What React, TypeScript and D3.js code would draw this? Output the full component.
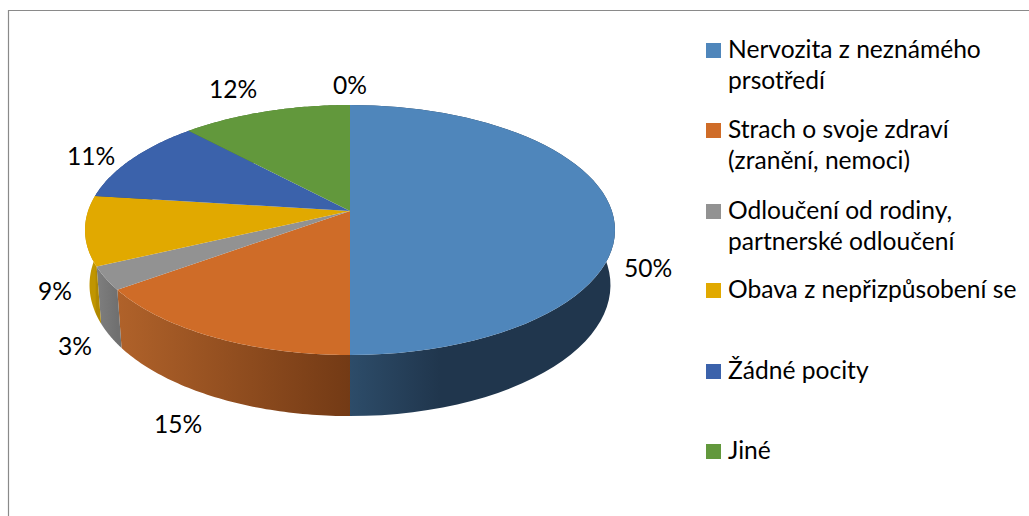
import React from 'react';
import * as d3 from 'd3';

const categories = [
  ['Nervozita z neznámého', 'prsotředí'],
  ['Strach o svoje zdraví', '(zranění, nemoci)'],
  ['Odloučení od rodiny,', 'partnerské odloučení'],
  ['Obava z nepřizpůsobení se'],
  ['Žádné pocity'],
  ['Jiné'],
  [''],
];
const values = [50, 15, 3, 9, 11, 12, 0];
const labels = ['50%', '15%', '3%', '9%', '11%', '12%', '0%'];
const topColors = ['#4f86bb', '#cf6c28', '#929292', '#e1a900', '#3b62ab', '#62983c', '#62983c'];
const wallLight = ['#2d4c69', '#b0622a', '#7f7f7f', '#c09500', '#2c4a82', '#4c742e', '#4c742e'];
const wallDark = ['#20364d', '#733a15', '#707070', '#b08800', '#2c4a82', '#4c742e', '#4c742e'];
const legendSwatch = ['#4f86bb', '#cf6c28', '#929292', '#e1a900', '#3b62ab', '#62983c'];
const labelX = [648, 178, 75, 55, 91, 233, 350];
const labelY = [267, 423, 345, 290, 155, 88, 84];
const legendY = [50, 130, 211, 290, 371, 451];

const cx = 350, apexY = 211, topY = 105, botY = 355;
const c = (2 * apexY - topY - botY) / (botY - topY);
const a = botY * (1 + c) - apexY;
const f = 265 * Math.sqrt(1 - c * c);
const depthY = 58.9, depthG = 0.017;

const project = (ang: number, lower: boolean) => {
  const u = Math.sin(ang), v = -Math.cos(ang);
  const d = 1 + c * v + (lower ? depthG : 0);
  const x = cx + (f * u) / d;
  const y = (a * v + apexY + (lower ? depthY : 0)) / d;
  return [x, y] as [number, number];
};

const pieGen = d3.pie<number>().sort(null).startAngle(0).endAngle(2 * Math.PI);
const arcs = pieGen(values);
const line = d3.line();

const arcPts = (s: number, e: number, lower: boolean) =>
  d3.range(0, 61).map((i) => project(s + ((e - s) * i) / 60, lower));

const wallPath = (s: number, e: number) =>
  line([...arcPts(s, e, false), ...arcPts(s, e, true).reverse()]) + 'Z';
const topPath = (s: number, e: number) =>
  line([[cx, apexY], ...arcPts(s, e, false)]) + 'Z';

const font = 'Lato, Carlito, "Open Sans", sans-serif';

export default function App() {
  return (
    <svg width={1029} height={516} style={{ position: 'absolute', left: 0, top: 0 }} fontFamily={font}>
      <defs>
        {arcs.map((d, i) => {
          const x0 = project(d.startAngle, false)[0], x1 = project(d.endAngle, false)[0];
          return (
            <linearGradient key={i} id={`w${i}`} gradientUnits="userSpaceOnUse" x1={i === 0 ? 350 : x0} x2={i === 0 ? 440 : x1} y1={0} y2={0}>
              <stop offset="0" stopColor={i === 0 ? wallLight[i] : wallDark[i]} />
              <stop offset="1" stopColor={i === 0 ? wallDark[i] : wallLight[i]} />
            </linearGradient>
          );
        })}
      </defs>
      <rect x={0} y={0} width={1029} height={516} fill="#fff" />
      <path d="M8.5 516V10.5H1029" fill="none" stroke="#8a8a8a" strokeWidth={1.2} />
      {arcs.map((d, i) => (
        <path key={i} d={wallPath(d.startAngle, d.endAngle)} fill={`url(#w${i})`} />
      ))}
      {arcs.map((d, i) => (
        <path key={i} d={topPath(d.startAngle, d.endAngle)} fill={topColors[i]} />
      ))}
      {labels.map((t, i) => (
        <text key={i} x={labelX[i]} y={labelY[i]} fontSize={24.6} textAnchor="middle" dominantBaseline="central" fill="#000">{t}</text>
      ))}
      {legendSwatch.map((col, i) => (
        <g key={i}>
          <rect x={706} y={legendY[i] - 7} width={15} height={15} fill={col} />
          {categories[i].map((t, j) => (
            <text key={j} x={728} y={legendY[i] - 1.5 + j * 31} fontSize={24.6} dominantBaseline="central" fill="#000">{t}</text>
          ))}
        </g>
      ))}
    </svg>
  );
}
